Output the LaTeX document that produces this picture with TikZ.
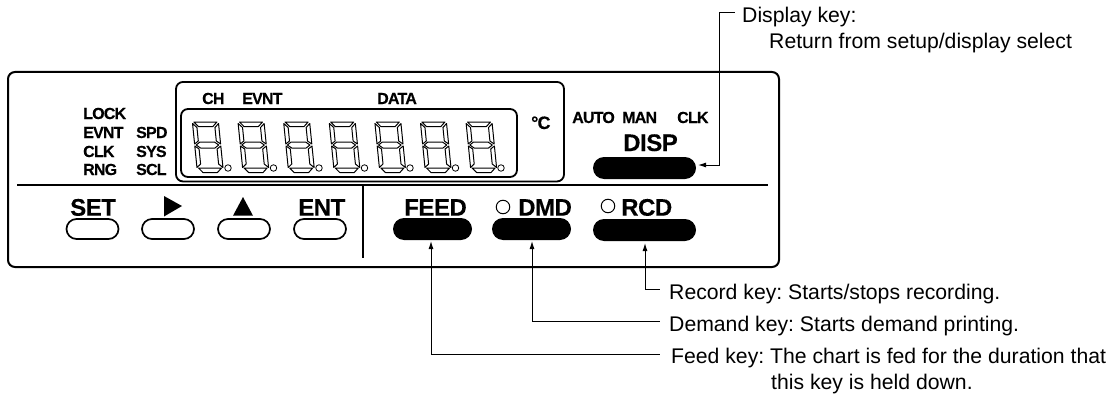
\documentclass[tikz,border=0pt]{standalone}
\usepackage{fontspec}
\setmainfont{Liberation Sans}
\newfontfamily\tightfont[LetterSpace=-5.0,BoldFeatures={FakeBold=0.4}]{Liberation Sans}
\newfontfamily\tightbig[LetterSpace=-2.0,BoldFeatures={FakeBold=0.3}]{Liberation Sans}
\usetikzlibrary{arrows.meta,shapes.misc}
\tikzset{
  x=1pt,y=-1pt,
  frame/.style={draw=black,line width=#1,rounded corners=7pt,inner sep=0pt,fill=none},
  keywhite/.style={rounded rectangle,draw=black,line width=1.7pt,fill=white,minimum width=52pt,minimum height=20pt,inner sep=0pt},
  keyblack/.style={rounded rectangle,draw=none,fill=black,minimum height=22pt,inner sep=0pt},
  smalltxt/.style={anchor=base west,inner sep=0pt,font=\fontsize{16}{18}\tightfont\bfseries\selectfont},
  degtxt/.style={anchor=base west,inner sep=0pt,font=\fontsize{18}{20}\tightfont\bfseries\selectfont},
  bigtxt/.style={anchor=base west,inner sep=0pt,font=\fontsize{24}{26}\tightbig\bfseries\selectfont},
  note/.style={anchor=base west,inner sep=0pt,font=\fontsize{21.2}{24}\selectfont\frenchspacing},
  rule/.style={line width=2pt,line cap=butt},
  seg/.style={draw=black,line width=1pt,line join=round,fill=none},
  lead/.style={line width=1pt},
  leadtip/.style={lead,{Latex[length=8pt,width=5pt]}-},
  dotmark/.style={circle,draw=black,line width=0.8pt,minimum size=6.5pt,inner sep=0pt},
  lamp/.style={circle,draw=black,line width=1pt,minimum size=13.5pt,inner sep=0pt},
}
\newcommand{\sevenseg}{%
  \draw[seg] (1.5,-46)--(24.5,-46)--(20,-41.5)--(5.5,-41.5)--cycle;
  \draw[seg] (1.5,0)--(24.5,0)--(20,4.5)--(5.5,4.5)--cycle;
  \draw[seg] (1.5,-23)--(5.5,-26)--(20,-26)--(24,-23)--(20,-20)--(5.5,-20)--cycle;
  \draw[seg] (0,-44.5)--(4,-40.5)--(4,-27)--(0,-24)--cycle;
  \draw[seg] (0,-22)--(4,-19)--(4,-4)--(0,-0.5)--cycle;
  \draw[seg] (26,-44.5)--(22,-40.5)--(22,-27)--(26,-24)--cycle;
  \draw[seg] (26,-22)--(22,-19)--(22,-4)--(26,-0.5)--cycle;
}
\begin{document}
\begin{tikzpicture}
\useasboundingbox (0,0) rectangle (1114,396);
% frames
\node[frame=2pt,minimum width=771pt,minimum height=195pt] (panel) at (393.5,169.5) {};
\node[frame=1.8pt,minimum width=388pt,minimum height=99.5pt] (dispout) at (370,131.7) {};
\node[frame=1.8pt,minimum width=336pt,minimum height=68pt] (dispin) at (349,143) {};
\coordinate (divL) at (17,184.5);
\coordinate (divR) at (768,184.5);
\coordinate (divT) at (363,184.5);
\coordinate (divB) at (363,258);
\draw[rule] (divL) -- (divR);
\draw[rule] (divT) -- (divB);
% digits
\foreach \i in {0,...,6} {
  \begin{scope}[shift={(197+45.6*\i,168)},xslant=-0.1]
    \sevenseg
  \end{scope}
  \node[dotmark] (dot\i) at (228+45.5*\i,168) {};
}
% small labels
\node[smalltxt] (lock) at (83,119) {LOCK};
\node[smalltxt] (evnt) at (83,138) {EVNT};
\node[smalltxt] (clkA) at (83,157) {CLK};
\node[smalltxt] (rng) at (83,175) {RNG};
\node[smalltxt] (spd) at (136,138) {SPD};
\node[smalltxt] (sys) at (136,157) {SYS};
\node[smalltxt] (scl) at (136,175) {SCL};
\node[smalltxt] (ch) at (202,104) {CH};
\node[smalltxt] (evntB) at (242,104) {EVNT};
\node[smalltxt] (data) at (377,104) {DATA};
\node[degtxt] (degc) at (531,129) {°C};
\node[smalltxt] (auto) at (572,123) {AUTO};
\node[smalltxt] (man) at (622,123) {MAN};
\node[smalltxt] (clkB) at (677,123) {CLK};
% big labels
\node[bigtxt] (disp) at (623,151) {DISP};
\node[bigtxt] (set) at (70,215.7) {SET};
\node[bigtxt] (ent) at (298,215.7) {ENT};
\node[bigtxt] (feed) at (404,215.7) {FEED};
\node[bigtxt] (dmd) at (518,215.7) {DMD};
\node[bigtxt] (rcd) at (621,215.7) {RCD};
\node[lamp] (lampD) at (503,207) {};
\node[lamp] (lampR) at (608,206) {};
\fill (164,196) -- (164,216.5) -- (182,206) -- cycle;
\fill (233,215.7) -- (253,215.7) -- (243,197) -- cycle;
% keys
\node[keywhite] (kset) at (92.5,229) {};
\node[keywhite] (kright) at (168,229) {};
\node[keywhite] (kup) at (244,229) {};
\node[keywhite] (kent) at (320,229) {};
\node[keyblack,minimum width=79pt] (kfeed) at (432.5,229) {};
\node[keyblack,minimum width=79pt] (kdmd) at (531.5,229) {};
\node[keyblack,minimum width=103pt] (krcd) at (644.5,230) {};
\node[keyblack,minimum width=103pt] (kdisp) at (644.5,168) {};
% notes
\node[note] (ndisp) at (742,23) {Display key:};
\node[note] (ndispb) at (769,48.5) {Return from setup/display select};
\node[note] (nrcd) at (669,299) {Record key: Starts/stops recording.};
\node[note] (ndmd) at (669,331) {Demand key: Starts demand printing.};
\node[note] (nfeed) at (671,363) {Feed key: The chart is fed for the duration that};
\node[note] (nfeedb) at (771,389) {this key is held down.};
% connectors
\coordinate (edisp) at (735,12.5);
\coordinate (ercd) at (660,289.5);
\coordinate (edmd) at (660,321.5);
\coordinate (efeed) at (660,354.5);
\coordinate (tdisp) at (698,165);
\coordinate (tfeed) at (431,241);
\coordinate (tdmd) at (532,241);
\coordinate (trcd) at (645,243);
\draw[leadtip] (tdisp) -- (719,165) -- (719,12.5) -- (edisp);
\draw[leadtip] (trcd) -- (645,289.5) -- (ercd);
\draw[leadtip] (tdmd) -- (532,321.5) -- (edmd);
\draw[leadtip] (tfeed) -- (431,354.5) -- (efeed);
\end{tikzpicture}
\end{document}
